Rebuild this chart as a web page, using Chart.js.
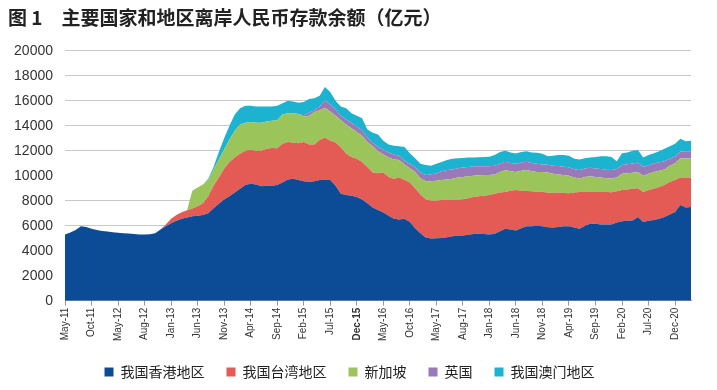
<!DOCTYPE html>
<html>
<head>
<meta charset="utf-8">
<script src="https://cdn.jsdelivr.net/npm/chart.js@4.4.1/dist/chart.umd.min.js"></script>
<style>
  body { margin: 0; background: #fff; }
  #wrap { width: 717px; height: 390px; }
</style>
</head>
<body>
<div id="wrap"><canvas id="myChart"></canvas></div>
<script>
// Series names (legend)
const seriesNames = ['我国香港地区', '我国台湾地区', '新加坡', '英国', '我国澳门地区'];

// Tick labels shown every 5 months (as printed on the original)
const tickLabels = ['May-11', 'Oct-11', 'May-12', 'Aug-12', 'Jan-13', 'Jun-13', 'Nov-13', 'Apr-14',
    'Sep-14', 'Feb-15', 'Jul-15', 'Dec-15', 'May-16', 'Oct-16', 'May-17', 'Aug-17', 'Jan-18',
    'Jun-18', 'Nov-18', 'Apr-19', 'Sep-19', 'Feb-20', 'Jul-20', 'Dec-20'];

// Monthly categories, May-11 .. Mar-21
const monthNames = ['Jan', 'Feb', 'Mar', 'Apr', 'May', 'Jun', 'Jul', 'Aug', 'Sep', 'Oct', 'Nov', 'Dec'];
const months = [];
for (let k = 4; k < 4 + 119; k++) {
    months.push(monthNames[k % 12] + '-' + (11 + Math.floor(k / 12)));
}

// Values (亿元)
const hongKong = [5300, 5450, 5650, 5950, 5900, 5750, 5650, 5580, 5530, 5480,
    5440, 5400, 5370, 5330, 5300, 5290, 5320, 5400, 5700, 5950,
    6200, 6400, 6550, 6650, 6750, 6800, 6850, 7000, 7400, 7750,
    8100, 8350, 8650, 8950, 9250, 9350, 9300, 9150, 9200, 9200,
    9250, 9450, 9700, 9750, 9650, 9550, 9500, 9550, 9650, 9700,
    9650, 9200, 8550, 8450, 8400, 8300, 8100, 7800, 7450, 7250,
    7050, 6800, 6550, 6500, 6550, 6300, 5800, 5400, 5050, 4980,
    5000, 5020, 5080, 5150, 5200, 5220, 5280, 5330, 5360, 5330,
    5300, 5350, 5550, 5760, 5700, 5620, 5800, 5950, 5950, 6000,
    5950, 5880, 5850, 5900, 5950, 5950, 5850, 5750, 6000, 6150,
    6150, 6100, 6100, 6100, 6250, 6350, 6400, 6420, 6700, 6300,
    6400, 6450, 6550, 6700, 6900, 7100, 7650, 7450, 7500];

const taiwan = [0, 0, 0, 0, 0, 0, 0, 0, 0, 0,
    0, 0, 0, 0, 0, 0, 0, 0, 0, 150,
    350, 450, 520, 580, 620, 750, 950, 1350, 1800, 2100,
    2450, 2750, 2800, 2800, 2750, 2720, 2680, 2850, 2950, 3020,
    2950, 3100, 3000, 2900, 2950, 3150, 3000, 2950, 3200, 3350,
    3150, 3450, 3700, 3300, 3100, 3050, 3000, 2900, 2800, 2950,
    3200, 3100, 3200, 3350, 3100, 3150, 3200, 3100, 3070, 3020,
    3000, 3030, 3020, 2950, 2900, 2900, 2920, 2970, 2990, 3070,
    3150, 3200, 3100, 2940, 3100, 3230, 3000, 2830, 2800, 2720,
    2750, 2770, 2770, 2750, 2670, 2650, 2800, 2950, 2720, 2550,
    2550, 2600, 2600, 2580, 2500, 2500, 2500, 2530, 2300, 2400,
    2450, 2500, 2550, 2550, 2600, 2550, 2200, 2400, 2350];

const singapore = [0, 0, 0, 0, 0, 0, 0, 0, 0, 0,
    0, 0, 0, 0, 0, 0, 0, 0, 0, 0,
    0, 0, 0, 0, 1430, 1500, 1500, 1300, 1300, 1450,
    1550, 1800, 2150, 2350, 2250, 2230, 2270, 2250, 2200, 2180,
    2250, 2350, 2300, 2350, 2350, 2050, 2300, 2600, 2400, 2400,
    2350, 2150, 2200, 2350, 2300, 2150, 2100, 2000, 2100, 1750,
    1450, 1550, 1550, 1400, 1250, 1150, 1300, 1300, 1430, 1550,
    1600, 1600, 1600, 1650, 1750, 1780, 1750, 1700, 1690, 1650,
    1600, 1550, 1650, 1750, 1550, 1450, 1600, 1670, 1600, 1580,
    1600, 1600, 1530, 1450, 1430, 1400, 1200, 1080, 1180, 1250,
    1200, 1150, 1100, 1100, 1100, 1300, 1300, 1280, 1300, 1300,
    1300, 1350, 1300, 1250, 1300, 1350, 1550, 1530, 1530];

const uk = [0, 0, 0, 0, 0, 0, 0, 0, 0, 0,
    0, 0, 0, 0, 0, 0, 0, 0, 0, 0,
    0, 0, 0, 0, 0, 0, 0, 0, 0, 0,
    0, 0, 0, 0, 0, 0, 0, 0, 0, 0,
    0, 0, 0, 0, 0, 100, 250, 150, 300, 600,
    550, 500, 350, 400, 450, 450, 450, 350, 300, 350,
    400, 400, 400, 350, 300, 350, 400, 450, 500, 550,
    600, 700, 750, 750, 750, 750, 750, 730, 720, 700,
    700, 700, 680, 670, 660, 650, 650, 660, 670, 650,
    600, 620, 650, 670, 670, 670, 670, 670, 680, 680,
    680, 680, 670, 670, 680, 700, 720, 750, 750, 700,
    680, 670, 670, 650, 550, 530, 530, 530, 530];

const macau = [0, 0, 0, 0, 0, 0, 0, 0, 0, 0,
    0, 0, 0, 0, 0, 0, 0, 0, 0, 0,
    0, 0, 0, 0, 0, 0, 0, 100, 200, 600,
    900, 1100, 1300, 1300, 1350, 1300, 1300, 1300, 1200, 1150,
    1150, 900, 1000, 950, 900, 1050, 1100, 950, 850, 1050,
    1000, 700, 750, 900, 750, 850, 950, 650, 800, 1000,
    700, 650, 700, 750, 1100, 850, 700, 700, 800, 700,
    750, 750, 800, 850, 800, 770, 750, 730, 720, 750,
    770, 850, 920, 880, 840, 830, 850, 840, 840, 880,
    850, 680, 800, 880, 930, 930, 830, 850, 820, 820,
    920, 1020, 1080, 1050, 620, 950, 930, 1020, 1000, 750,
    820, 830, 880, 1000, 1000, 1020, 1020, 840, 890];

const colors = ['#0c4c97', '#e35b54', '#9bc45a', '#9a79ba', '#1bb3cf'];
const allSeries = [hongKong, taiwan, singapore, uk, macau];

const ctx = document.getElementById('myChart').getContext('2d');
const myChart = new Chart(ctx, {
    type: 'line',
    data: {
        labels: months,
        datasets: allSeries.map(function(values, n) {
            return {
                label: seriesNames[n],
                data: values,
                backgroundColor: colors[n],
                borderColor: colors[n],
                borderWidth: 0,
                pointRadius: 0,
                fill: n === 0 ? 'origin' : '-1',
            };
        }),
    },
    options: {
        responsive: true,
        maintainAspectRatio: false,
        animation: false,
        layout: { padding: { left: 8, right: 26, top: 0, bottom: 1 } },
        plugins: {
            title: {
                display: true,
                text: '图 1　主要国家和地区离岸人民币存款余额（亿元）',
                align: 'start',
                color: '#222',
                font: { family: '"Noto Sans CJK SC"', size: 19, weight: 'bold' },
                padding: { top: 6, bottom: 22 },
            },
            legend: {
                position: 'bottom',
                labels: {
                    boxWidth: 9,
                    boxHeight: 9,
                    padding: 22,
                    color: '#222',
                    font: { family: '"Noto Sans CJK SC"', size: 14 },
                },
            },
            tooltip: { enabled: false },
        },
        scales: {
            x: {
                ticks: {
                    autoSkip: false,
                    maxRotation: 90,
                    minRotation: 90,
                    padding: 2,
                    color: '#333',
                    font: function(c) {
                        // Dec-15 is printed in bold on the original
                        const bold = c.tick && c.tick.label === 'Dec-15';
                        return { family: '"Liberation Sans", Arial', size: 10, weight: bold ? 'bold' : 'normal' };
                    },
                    callback: function(value, index) {
                        return index % 5 === 0 ? tickLabels[index / 5] : null;
                    },
                },
                grid: {
                    drawOnChartArea: false,
                    drawTicks: true,
                    tickLength: 5,
                    color: '#999',
                },
                border: { display: true, color: '#999' },
            },
            y: {
                stacked: true,
                min: 0,
                max: 20000,
                afterFit: function(scale) {
                    scale.width = 57;
                },
                ticks: {
                    stepSize: 2000,
                    padding: 12,
                    color: '#333',
                    font: { family: '"Liberation Sans", Arial', size: 14 },
                    callback: function(value) {
                        return String(value);
                    },
                },
                grid: {
                    drawTicks: false,
                    color: function(c) {
                        // no grid line at 10000 on the original
                        return c.tick && c.tick.value === 10000 ? 'rgba(0,0,0,0)' : '#c8c8c8';
                    },
                },
                border: { display: false },
            },
        },
    },
});
</script>
</body>
</html>
